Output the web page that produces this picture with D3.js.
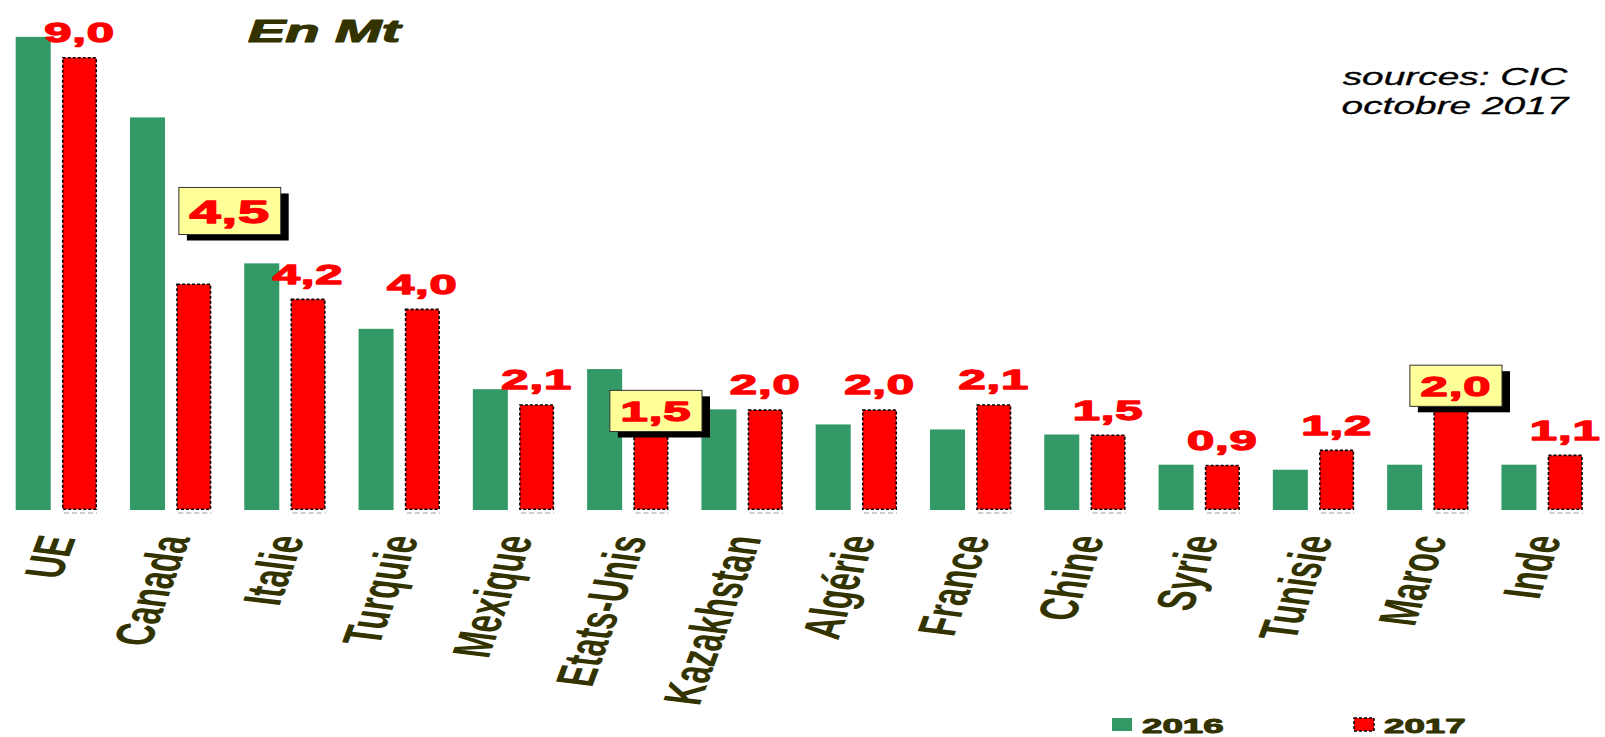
<!DOCTYPE html>
<html>
<head>
<meta charset="utf-8">
<script src="https://cdn.jsdelivr.net/npm/d3@7"></script>
<style>
  html, body { margin: 0; padding: 0; background: #ffffff; }
  svg { display: block; }
</style>
</head>
<body>
<svg id="chart" width="1605" height="737"></svg>
<script>
// ---- data ----
const categories = ["UE", "Canada", "Italie", "Turquie", "Mexique", "Etats-Unis", "Kazakhstan",
                    "Algérie", "France", "Chine", "Syrie", "Tunisie", "Maroc", "Inde"];
const series = ["2016", "2017"];
const values2016 = [9.4, 7.8, 4.9, 3.6, 2.4, 2.8, 2.0, 1.7, 1.6, 1.5, 0.9, 0.8, 0.9, 0.9];
const values2017 = [9.0, 4.5, 4.2, 4.0, 2.1, 1.5, 2.0, 2.0, 2.1, 1.5, 0.9, 1.2, 2.0, 1.1];
const labels2017 = ["9,0", "4,5", "4,2", "4,0", "2,1", "1,5", "2,0", "2,0", "2,1", "1,5", "0,9", "1,2", "2,0", "1,1"];
const callouts = ["Canada", "Etats-Unis", "Maroc"];
const titleText = "En Mt";
const sourceLines = ["sources: CIC", "octobre 2017"];

// ---- layout / style ----
const svg = d3.select("#chart");
const GREEN = "#339966", RED = "#ff0000", OLIVE = "#333300";
const STRETCH = 1.75;
const FONT = "'Liberation Sans', Arial, sans-serif";

const x0 = d3.scaleBand().domain(categories).range([0, 1600]).padding(0);
const x1 = d3.scaleBand().domain(series).range([15.7, 97]).paddingInner(0.244).paddingOuter(0);
const y = d3.scaleLinear().domain([0, 9]).range([510, 57]);

const rows = categories.map((c, i) => ({
  cat: c, v16: values2016[i], v17: values2017[i], lab: labels2017[i]
}));

const g = svg.append("g");

// 2016 bars
g.selectAll("rect.b16").data(rows).join("rect")
  .attr("class", "b16")
  .attr("x", d => x0(d.cat) + x1("2016"))
  .attr("y", d => y(d.v16))
  .attr("width", x1.bandwidth())
  .attr("height", d => y(0) - y(d.v16))
  .attr("fill", GREEN);

// 2017 bars
g.selectAll("rect.b17").data(rows).join("rect")
  .attr("class", "b17")
  .attr("x", d => x0(d.cat) + x1("2017") + 0.75)
  .attr("y", d => y(d.v17) + 0.75)
  .attr("width", x1.bandwidth() - 1.5)
  .attr("height", d => y(0) - y(d.v17) - 1.5)
  .attr("fill", RED)
  .attr("stroke", "#000")
  .attr("stroke-width", 1.6)
  .attr("stroke-dasharray", "3,2");

// light dashed shadow line under 2017 bars
g.selectAll("line.sh").data(rows).join("line")
  .attr("class", "sh")
  .attr("x1", d => x0(d.cat) + x1("2017") + 2)
  .attr("x2", d => x0(d.cat) + x1("2017") + x1.bandwidth())
  .attr("y1", y(0) + 3).attr("y2", y(0) + 3)
  .attr("stroke", "#cfcfcf").attr("stroke-width", 2)
  .attr("stroke-dasharray", "5,3");

// value labels (non-callout)
const redCenter = d => x0(d.cat) + x1("2017") + x1.bandwidth() / 2;
g.selectAll("text.vl").data(rows.filter(d => !callouts.includes(d.cat))).join("text")
  .attr("class", "vl")
  .attr("transform", d => `translate(${redCenter(d)},${y(d.v17) - 15}) scale(${STRETCH},1)`)
  .attr("text-anchor", "middle")
  .attr("font-family", FONT)
  .attr("font-weight", "bold")
  .attr("font-size", 28)
  .attr("letter-spacing", 0.5)
  .attr("fill", RED)
  .attr("stroke", RED).attr("stroke-width", 1.3).attr("stroke-linejoin", "round")
  .text(d => d.lab);

// callouts
const calloutLayout = { "Canada": { dx: 36, gap: 49, fs: 32 } };
const defaultLayout = { dx: 5, gap: 3, fs: 28 };
rows.filter(d => callouts.includes(d.cat)).forEach(d => {
  const L = calloutLayout[d.cat] || defaultLayout;
  const cg = g.append("g");
  const t = cg.append("text")
    .attr("text-anchor", "middle")
    .attr("font-family", FONT)
    .attr("font-weight", "bold")
    .attr("font-size", L.fs)
    .attr("letter-spacing", 0.5)
    .attr("fill", RED)
    .attr("stroke", RED).attr("stroke-width", 1.3).attr("stroke-linejoin", "round")
    .text(d.lab);
  const tw = L.fs * 1.39 * STRETCH;
  const bw = tw + 24, bh = L.fs * 1.47;
  const cx = redCenter(d) + L.dx;
  const bottom = y(d.v17) - L.gap;
  const top = bottom - bh;
  cg.insert("rect", "text")
    .attr("x", cx - bw / 2 + 8).attr("y", top + 6)
    .attr("width", bw).attr("height", bh)
    .attr("fill", "#000");
  cg.insert("rect", "text")
    .attr("x", cx - bw / 2).attr("y", top)
    .attr("width", bw).attr("height", bh)
    .attr("fill", "#ffff99").attr("stroke", "#333").attr("stroke-width", 1);
  t.attr("transform", `translate(${cx},${top + bh / 2 + L.fs * 0.36}) scale(${STRETCH},1)`);
});

// category labels
g.selectAll("text.cat").data(categories).join("text")
  .attr("class", "cat")
  .attr("transform", c => `translate(${x0(c) + x0.bandwidth() / 2 + 19},538) scale(${STRETCH},1) rotate(-78)`)
  .attr("text-anchor", "end")
  .attr("font-family", FONT)
  .attr("font-weight", "bold")
  .attr("font-size", 31)
  .attr("fill", OLIVE)
  .text(c => c);

// title
svg.append("text")
  .attr("transform", `translate(248,42) scale(${STRETCH},1)`)
  .attr("font-family", FONT)
  .attr("font-weight", "bold").attr("font-style", "italic")
  .attr("font-size", 32).attr("fill", OLIVE)
  .attr("stroke", OLIVE).attr("stroke-width", 1.2).attr("stroke-linejoin", "round")
  .text(titleText);

// sources
svg.selectAll("text.src").data(sourceLines).join("text")
  .attr("class", "src")
  .attr("transform", (s, i) => `translate(1455,${85 + i * 29}) scale(1.62,1)`)
  .attr("text-anchor", "middle")
  .attr("font-family", FONT)
  .attr("font-style", "italic")
  .attr("font-size", 24).attr("fill", "#000")
  .attr("stroke", "#000").attr("stroke-width", 0.3)
  .text(s => s);

// legend
const legend = svg.append("g");
const legendItems = [
  { name: series[0], x: 1112, fill: GREEN, dashed: false },
  { name: series[1], x: 1354, fill: RED, dashed: true }
];
legendItems.forEach(it => {
  legend.append("rect")
    .attr("x", it.x).attr("y", 718).attr("width", 20).attr("height", 13)
    .attr("fill", it.fill)
    .attr("stroke", it.dashed ? "#000" : "none")
    .attr("stroke-width", 1.5)
    .attr("stroke-dasharray", it.dashed ? "3,2" : null);
  legend.append("text")
    .attr("transform", `translate(${it.x + 30},733) scale(${STRETCH},1)`)
    .attr("font-family", FONT)
    .attr("font-weight", "bold")
    .attr("font-size", 21).attr("fill", OLIVE)
    .attr("stroke", OLIVE).attr("stroke-width", 1).attr("stroke-linejoin", "round")
    .text(it.name);
});
</script>
</body>
</html>
